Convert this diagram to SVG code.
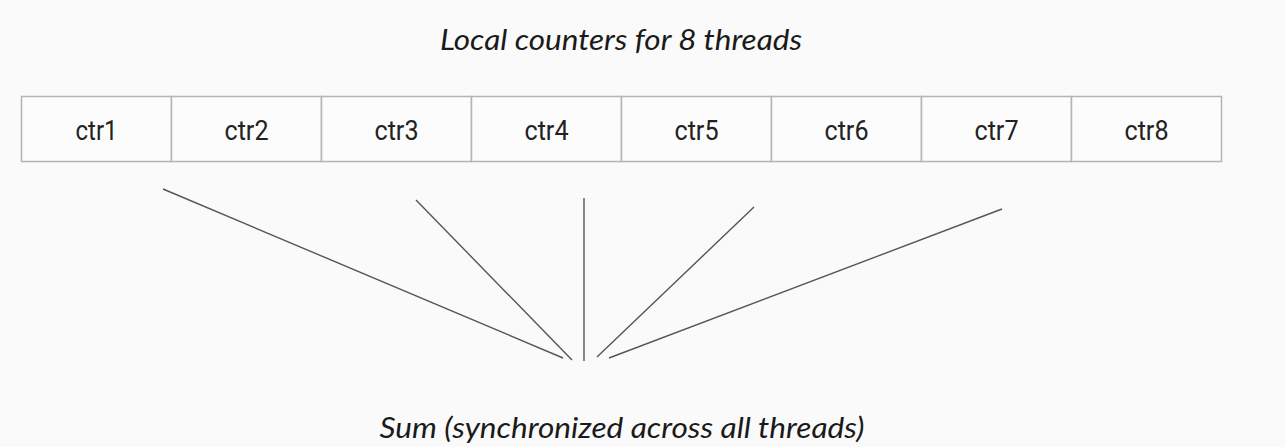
<svg xmlns="http://www.w3.org/2000/svg" width="1285" height="447" viewBox="0 0 1285 447">
<style>
.cell{fill:#fcfcfc;stroke:#b4b4b4;stroke-width:1.5}
.lbl{font-family:Roboto,"Liberation Sans",sans-serif;font-size:27px;fill:#222;text-anchor:middle}
.hand{font-family:"Lato","Open Sans",sans-serif;font-style:italic;font-size:29px;fill:#1a1a1a;text-anchor:middle}
.conn line{stroke:#555;stroke-width:1.4}
</style>
<rect width="1285" height="447" fill="#fafafa"/>
<text id="title" class="hand" x="621" y="50" textLength="362" lengthAdjust="spacingAndGlyphs">Local counters for 8 threads</text>
<g id="ctr1"><rect class="cell" x="21.5" y="96.5" width="150" height="65"/><text class="lbl" x="96.5" y="140" textLength="42" lengthAdjust="spacingAndGlyphs">ctr1</text></g>
<g id="ctr2"><rect class="cell" x="171.5" y="96.5" width="150" height="65"/><text class="lbl" x="246.5" y="140" textLength="44" lengthAdjust="spacingAndGlyphs">ctr2</text></g>
<g id="ctr3"><rect class="cell" x="321.5" y="96.5" width="150" height="65"/><text class="lbl" x="396.5" y="140" textLength="44" lengthAdjust="spacingAndGlyphs">ctr3</text></g>
<g id="ctr4"><rect class="cell" x="471.5" y="96.5" width="150" height="65"/><text class="lbl" x="546.5" y="140" textLength="44" lengthAdjust="spacingAndGlyphs">ctr4</text></g>
<g id="ctr5"><rect class="cell" x="621.5" y="96.5" width="150" height="65"/><text class="lbl" x="696.5" y="140" textLength="44" lengthAdjust="spacingAndGlyphs">ctr5</text></g>
<g id="ctr6"><rect class="cell" x="771.5" y="96.5" width="150" height="65"/><text class="lbl" x="846.5" y="140" textLength="44" lengthAdjust="spacingAndGlyphs">ctr6</text></g>
<g id="ctr7"><rect class="cell" x="921.5" y="96.5" width="150" height="65"/><text class="lbl" x="996.5" y="140" textLength="44" lengthAdjust="spacingAndGlyphs">ctr7</text></g>
<g id="ctr8"><rect class="cell" x="1071.5" y="96.5" width="150" height="65"/><text class="lbl" x="1146.5" y="140" textLength="44" lengthAdjust="spacingAndGlyphs">ctr8</text></g>
<g id="connectors" class="conn">
<line x1="163" y1="189" x2="563" y2="358"/>
<line x1="416" y1="200" x2="572" y2="360"/>
<line x1="584" y1="198" x2="584" y2="361"/>
<line x1="754" y1="207" x2="597" y2="357"/>
<line x1="1002" y1="209" x2="609" y2="358"/>
</g>
<text id="sum" class="hand" x="622" y="438" textLength="485" lengthAdjust="spacingAndGlyphs">Sum (synchronized across all threads)</text>
</svg>
